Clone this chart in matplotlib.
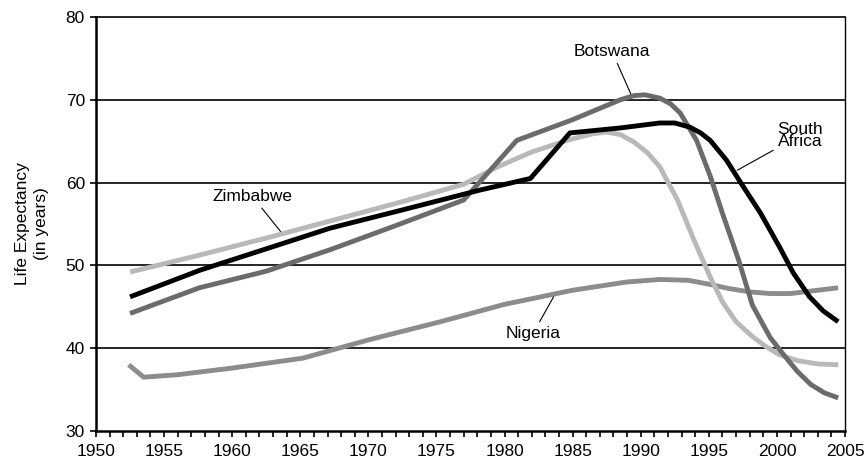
import numpy as np
import matplotlib
matplotlib.use("Agg")
import matplotlib.pyplot as plt
from matplotlib.ticker import MultipleLocator

plt.rcParams['font.family'] = ['Liberation Sans', 'DejaVu Sans']

# values
zim_years = [1952.5, 1957.5, 1962.5, 1967.5, 1972.5, 1977.0, 1979.5, 1982.0, 1984.8, 1986.5, 1987.5,
             1988.5, 1989.5, 1990.5, 1991.4, 1992.7, 1993.9, 1995.1, 1996.0, 1997.0, 1998.2,
             1999.2, 2000.2, 2001.5, 2003.0, 2004.5]
zim_vals = [49.2, 51.2, 53.3, 55.5, 57.7, 59.8, 61.9, 63.7, 65.2, 65.9, 66.1,
            65.8, 64.9, 63.6, 61.9, 57.9, 53.1, 48.6, 45.6, 43.2, 41.4,
            40.2, 39.2, 38.5, 38.1, 38.0]

sa_years = [1952.5, 1957.6, 1962.5, 1967.2, 1972.5, 1978.2, 1981.9, 1984.8, 1988.5, 1991.4, 1992.5,
            1993.6, 1994.4, 1995.1, 1996.3, 1997.3, 1998.8, 2000.2, 2001.2, 2002.4, 2003.4, 2004.5]
sa_vals = [46.2, 49.4, 52.0, 54.5, 56.7, 59.1, 60.5, 66.0, 66.6, 67.2, 67.2,
           66.7, 66.0, 65.1, 62.7, 60.1, 56.3, 52.2, 49.1, 46.2, 44.5, 43.2]

bot_years = [1952.5, 1957.6, 1962.5, 1967.2, 1972.0, 1977.0, 1980.9, 1985.0, 1988.5, 1989.5, 1990.3,
             1991.4, 1992.2, 1992.9, 1994.1, 1995.1, 1996.0, 1997.2, 1998.2, 1999.5, 2000.5,
             2001.5, 2002.5, 2003.5, 2004.5]
bot_vals = [44.2, 47.3, 49.3, 51.9, 54.8, 57.9, 65.1, 67.6, 70.0, 70.5, 70.6,
            70.2, 69.5, 68.4, 65.1, 60.8, 56.3, 50.6, 45.2, 41.3, 39.2,
            37.2, 35.6, 34.6, 34.0]

nig_years = [1952.4, 1953.5, 1956.0, 1960.0, 1965.2, 1970.0, 1975.3, 1980.0, 1985.0, 1987.0,
             1989.0, 1991.4, 1993.5, 1995.1, 1996.5, 1998.0, 1999.5, 2001.0, 2002.5, 2004.5]
nig_vals = [38.0, 36.5, 36.8, 37.6, 38.8, 41.0, 43.2, 45.3, 47.0, 47.5,
            48.0, 48.3, 48.2, 47.7, 47.2, 46.8, 46.6, 46.6, 46.9, 47.3]

fig = plt.figure(figsize=(8.68, 4.63), dpi=100)
ax = fig.add_axes([0.1106, 0.0691, 0.8629, 0.8942])

lw = 3.5
ax.plot(nig_years, nig_vals, color='#8c8c8c', lw=lw, solid_capstyle='butt', zorder=3)
ax.plot(zim_years, zim_vals, color='#b9b9b9', lw=lw, solid_capstyle='butt', zorder=4)
ax.plot(bot_years, bot_vals, color='#6b6b6b', lw=lw, solid_capstyle='butt', zorder=5)
ax.plot(sa_years, sa_vals, color='black', lw=lw, solid_capstyle='butt', zorder=6)

ax.set_xlim(1950, 2005)
ax.set_ylim(30, 80)
ax.xaxis.set_major_locator(MultipleLocator(5))
ax.xaxis.set_minor_locator(MultipleLocator(1))
ax.yaxis.set_major_locator(MultipleLocator(10))
ax.tick_params(axis='x', which='both', direction='out', length=4, width=1.2, labelsize=12.5, pad=5)
ax.tick_params(axis='y', which='both', direction='out', length=4, width=1.2, labelsize=12.5, pad=4)

for v in [40, 50, 60, 70]:
    ax.axhline(v, color='black', lw=1.2, zorder=1)
ax.spines['top'].set_linewidth(1.2)
ax.spines['right'].set_linewidth(1.0)
ax.spines['left'].set_linewidth(1.8)
ax.spines['bottom'].set_linewidth(1.8)

ax.set_ylabel('Life Expectancy\n(in years)', fontsize=12.5, labelpad=12, linespacing=1.3)

arrow = dict(arrowstyle='-', lw=0.8, color='black', shrinkA=1, shrinkB=0)
ax.annotate('Botswana', xy=(1989.3, 70.6), xytext=(1987.9, 75.8), ha='center', va='center',
            fontsize=12.5, arrowprops=arrow)
ax.annotate('South\nAfrica', xy=(1997.1, 61.5), xytext=(2001.7, 65.7), ha='center', va='center',
            fontsize=12.5, linespacing=0.8, arrowprops=arrow)
ax.annotate('Zimbabwe', xy=(1963.6, 54.0), xytext=(1961.5, 58.3), ha='center', va='center',
            fontsize=12.5, arrowprops=arrow)
ax.annotate('Nigeria', xy=(1983.6, 46.2), xytext=(1982.1, 41.8), ha='center', va='center',
            fontsize=12.5, arrowprops=arrow)

fig.savefig('out.png', dpi=100)
